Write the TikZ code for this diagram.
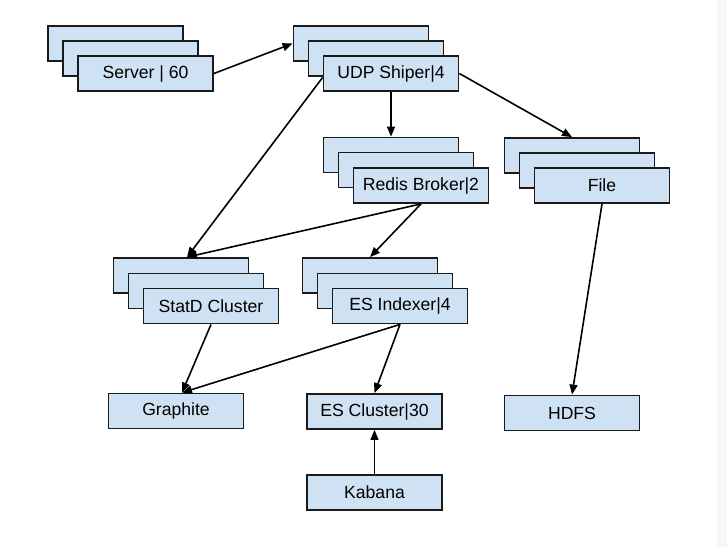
\documentclass[tikz,border=0pt]{standalone}
\usepackage{fontspec}
\setmainfont{Liberation Sans}
\usetikzlibrary{arrows.meta}
\definecolor{boxblue}{HTML}{CFE2F3}
\definecolor{boxline}{HTML}{1A1A1A}
\tikzset{
  box/.style={draw=boxline, fill=boxblue, line width=1.3pt, rectangle,
    minimum width=101.3pt, minimum height=26.3pt, inner sep=0pt,
    font=\fontsize{13.2}{15}\selectfont},
  arr/.style={line width=1.2pt, draw=black, -{Triangle[length=7.5pt,width=6pt]}}
}
\begin{document}
\begin{tikzpicture}[x=0.75pt,y=-0.75pt]
\useasboundingbox (0,0) rectangle (727,547);
\fill[white] (0,0) rectangle (727,547);
\fill[black!3] (717,0) rectangle (727,547);
% Server stack
\node[box] (serverb) at (115.5,43.5) {};
\node[box] (serverm) at (130.5,58.5) {};
\node[box] (server)  at (145.5,73.5) {Server | 60};
% UDP stack
\node[box] (udpb) at (361,43.5) {};
\node[box] (udpm) at (376,58.5) {};
\node[box] (udp)  at (391,73.5) {UDP Shiper|4};
% Redis stack
\node[box] (redisb) at (391,155) {};
\node[box] (redism) at (406,170) {};
\node[box] (redis)  at (421,185.5) {Redis Broker|2};
% File stack
\node[box] (fileb) at (572,155.5) {};
\node[box] (filem) at (587,170.5) {};
\node[box] (file)  at (602,185.5) {File};
% StatD stack
\node[box] (statb) at (181,275.5) {};
\node[box] (statm) at (196,291) {};
\node[box] (stat)  at (211,306) {StatD Cluster};
% ES Indexer stack
\node[box] (esib) at (370,275.5) {};
\node[box] (esim) at (385,291) {};
\node[box] (esi)  at (400,306) {ES Indexer|4};
% single boxes
\node[box] (graphite)  at (176,411) {Graphite};
\node[box] (escluster) at (374.5,411.5) {ES Cluster|30};
\node[box] (hdfs)      at (572,413) {HDFS};
\node[box] (kabana)    at (374.5,492.5) {Kabana};
% connectors
\draw[arr] (server.east) -- (udpb.west);
\draw[arr] (udp.south) -- (redisb.north);
\draw[arr] (udp.east) -- (fileb.north);
\draw[arr] ([yshift=-3pt]udp.west) -- ([xshift=4.5pt]statb.north);
\draw[arr] (redis.south) -- ([xshift=4.5pt]statb.north);
\draw[arr] (redis.south) -- (esib.north);
\draw[arr] (stat.south) -- ([xshift=4.5pt]graphite.north);
\draw[arr] (esi.south) -- ([xshift=4.5pt]graphite.north);
\draw[arr] (esi.south) -- (escluster.north);
\draw[arr] (kabana.north) -- (escluster.south);
\draw[arr] (file.south) -- (hdfs.north);
\end{tikzpicture}
\end{document}
